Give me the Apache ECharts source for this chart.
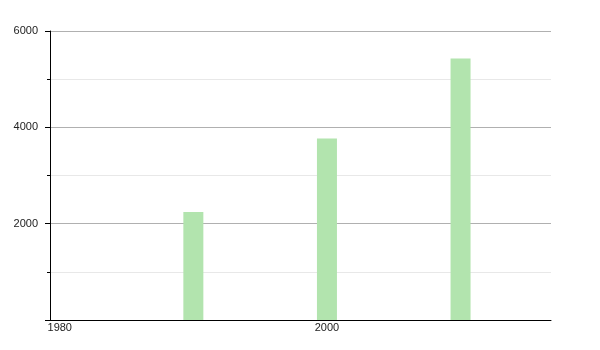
<!DOCTYPE html>
<html>
<head>
<meta charset="utf-8">
<script src="https://cdn.jsdelivr.net/npm/echarts@6/dist/echarts.min.js"></script>
<style>
html,body{margin:0;padding:0;background:#fff;}
#chart{width:600px;height:350px;}
</style>
</head>
<body>
<div id="chart"></div>
<script>
const years = [1990, 2000, 2010];
const values = [2240, 3770, 5430];
const xTickLabels = [1980, 2000];
const yTickLabels = [2000, 4000, 6000];

const chart = echarts.init(document.getElementById('chart'), null, {renderer: 'canvas'});
chart.setOption({
  animation: false,
  backgroundColor: '#ffffff',
  grid: {left: 50, right: 49, top: 31, bottom: 30, containLabel: false},
  xAxis: {
    type: 'value',
    min: 1979.27,
    max: 2016.77,
    splitLine: {show: false},
    axisLine: {show: true, lineStyle: {color: '#000', width: 1}},
    axisTick: {show: false},
    axisLabel: {
      customValues: xTickLabels,
      formatter: v => String(v),
      color: '#222',
      fontFamily: 'Liberation Sans, Arial, sans-serif',
      fontSize: 11,
      margin: 2,
      showMinLabel: true,
      showMaxLabel: true
    }
  },
  yAxis: {
    type: 'value',
    min: 0,
    max: 6000,
    interval: 2000,
    axisLine: {show: true, lineStyle: {color: '#000', width: 1}},
    axisTick: {show: true, length: 5, lineStyle: {color: '#000'}},
    minorTick: {show: true, splitNumber: 2, length: 3, lineStyle: {color: '#000'}},
    splitLine: {show: true, lineStyle: {color: '#b0b0b0', width: 1}},
    minorSplitLine: {show: true, lineStyle: {color: '#e8e8e8', width: 1}},
    axisLabel: {
      customValues: [0].concat(yTickLabels),
      formatter: v => (v === 0 ? '' : String(v)),
      color: '#222',
      fontFamily: 'Liberation Sans, Arial, sans-serif',
      fontSize: 11,
      margin: 12
    }
  },
  series: [{
    type: 'bar',
    data: years.map((y, i) => [y, values[i]]),
    barWidth: 20,
    itemStyle: {color: '#b2e4ae'},
    silent: true
  }]
});
</script>
</body>
</html>
